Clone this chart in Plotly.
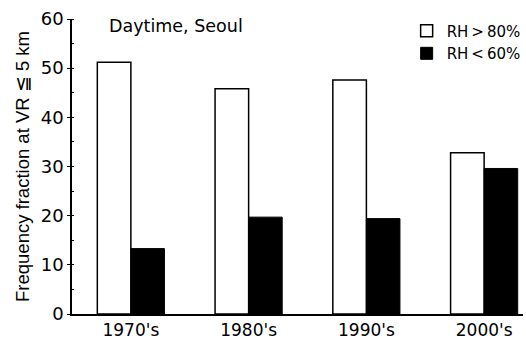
import plotly.graph_objects as go

categories = ["1970's", "1980's", "1990's", "2000's"]
rh_high = [51.2, 45.8, 47.6, 32.8]
rh_low = [13.3, 19.7, 19.4, 29.6]
series_names = ["RH\u2009>\u200980%", "RH\u2009<\u200960%"]
y_ticks = [0, 10, 20, 30, 40, 50, 60]

wide_font = "DejaVu Sans, Verdana, sans-serif"
title_font = "Liberation Sans, Arial, sans-serif"

fig = go.Figure()
fig.add_trace(go.Bar(
    x=categories, y=rh_high, name=series_names[0],
    marker=dict(color="white", line=dict(color="black", width=1.5)),
))
fig.add_trace(go.Bar(
    x=categories, y=rh_low, name=series_names[1],
    marker=dict(color="black", line=dict(color="black", width=1)),
))

fig.update_layout(
    width=526, height=343,
    margin=dict(l=72, r=0, t=19, b=29),
    plot_bgcolor="white", paper_bgcolor="white",
    barmode="group", bargap=0.43, bargroupgap=0,
    font=dict(family=wide_font, color="black"),
    showlegend=True,
    legend=dict(
        x=0.742, y=1.015, xanchor="left", yanchor="top",
        bgcolor="rgba(0,0,0,0)", font=dict(size=15),
        itemwidth=30, tracegroupgap=0,
    ),
    xaxis=dict(
        range=[-0.5, 3.33], showline=True, linecolor="black", linewidth=1.5,
        ticks="", tickfont=dict(size=17), showgrid=False, zeroline=False,
    ),
    yaxis=dict(
        range=[0, 60], tickvals=y_ticks, showline=True, linecolor="black",
        linewidth=1.5, ticks="outside", ticklen=3, tickwidth=1.2, tickcolor="black",
        minor=dict(dtick=5, ticks="inside", ticklen=2, tickcolor="black", tickwidth=1),
        tickfont=dict(size=18), showgrid=False, zeroline=False,
        title=dict(text="Frequency fraction at VR \u2266 5 km",
                   font=dict(size=18.5, family=title_font), standoff=6),
    ),
    annotations=[dict(
        text="Daytime, Seoul", x=0, y=1, xref="paper", yref="paper",
        xanchor="left", yanchor="middle", showarrow=False, font=dict(size=17.5),
    )],
)
# convert annotation pixel spot to paper coords
pw = 526 - 72
ph = 343 - 19 - 29
fig.layout.annotations[0].x = (107 - 72) / pw
fig.layout.annotations[0].y = (343 - 29 - 26) / ph

fig.write_html("out.html")
